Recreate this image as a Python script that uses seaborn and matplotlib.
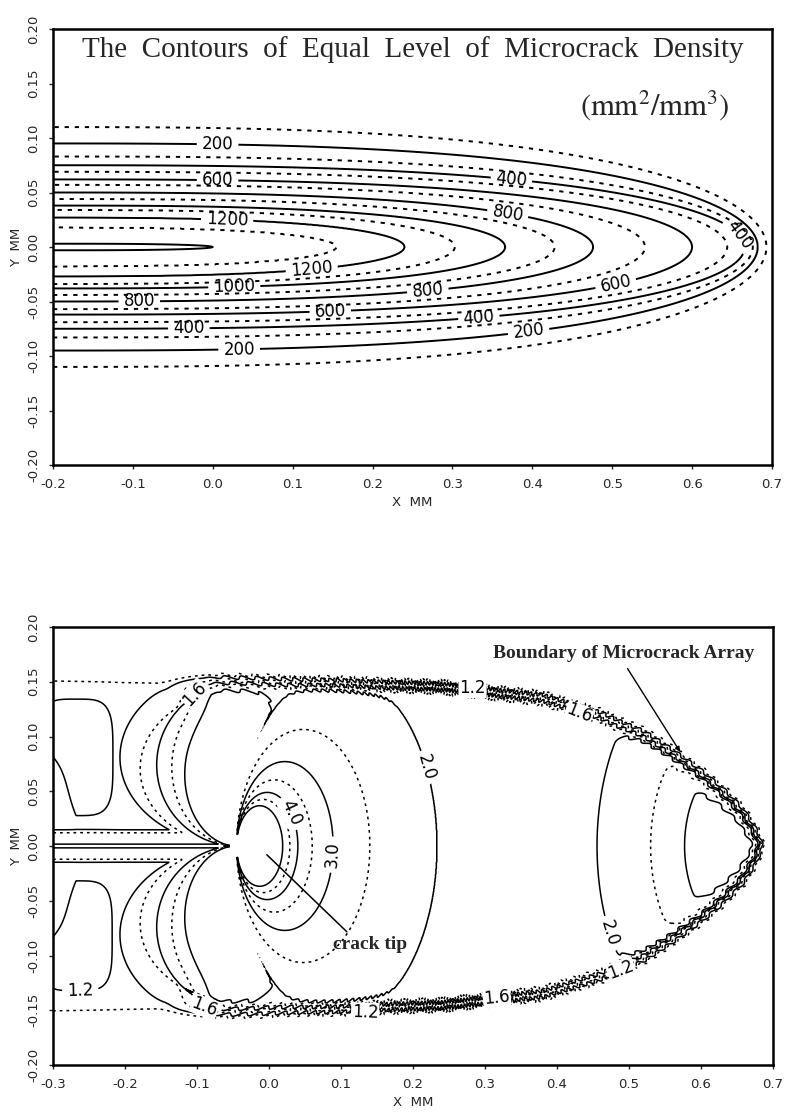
import numpy as np
import matplotlib
matplotlib.use("Agg")
import matplotlib.pyplot as plt
import seaborn as sns

# ---------------- upper panel: microcrack density (mm2/mm3) ----------------
top_levels = [100, 200, 300, 400, 500, 600, 700, 800, 900, 1000, 1100, 1200, 1300, 1400]
# half width of each contour at the left edge (x = -0.2) and x where it closes
top_halfwidth = [0.110, 0.095, 0.083, 0.075, 0.069, 0.062, 0.057, 0.050, 0.044,
                 0.038, 0.034, 0.027, 0.018, 0.003]
top_tip_x = [0.693, 0.682, 0.676, 0.666, 0.644, 0.600, 0.541, 0.476, 0.428,
             0.366, 0.303, 0.240, 0.155, 0.000]
top_shape_power = 2.8
top_label_pos = {
    200: [(0.006, 0.094), (0.033, -0.094), (0.396, -0.082)],
    400: [(0.374, 0.064), (0.656, 0.009), (-0.030, -0.075), (0.333, -0.064)],
    600: [(0.006, 0.061), (0.503, -0.030), (0.147, -0.058)],
    800: [(0.369, 0.030), (-0.092, -0.049), (0.269, -0.039)],
    1000: [(0.027, -0.039)],
    1200: [(0.018, 0.025), (0.124, -0.021)],
}
top_xticks = [-0.2, -0.1, 0.0, 0.1, 0.2, 0.3, 0.4, 0.5, 0.6, 0.7]

# ---------------- lower panel: field around the crack tip ----------------
bot_levels = [1.1, 1.2, 1.4, 1.6, 1.8, 2.0, 2.5, 3.0, 3.5, 4.0, 4.5, 5.0]
bot_solid = [False, True, False, True, False, True, False, True, False, True, False, True]
# boundary of the microcrack array (upper half, mirrored below)
boundary_x = [-0.35, -0.085, 0.10, 0.24, 0.38, 0.46, 0.52, 0.56, 0.60, 0.63, 0.655, 0.672, 0.678]
boundary_hw = [0.153, 0.150, 0.147, 0.144, 0.134, 0.118, 0.100, 0.082, 0.062, 0.045, 0.028, 0.010, 0.0]
crack_tip_x = -0.045
# loops ahead of the tip: loop "radius" -> level
tip_radius = [0.020, 0.032, 0.037, 0.0425, 0.0525, 0.067, 0.0925, 0.139]
tip_level = [6.0, 5.0, 4.5, 4.0, 3.5, 3.0, 2.5, 2.0]
tip_far_radius = 0.35
far_dx = [0.10, 0.25]
far_level = [2.08, 1.90]
# fan of lines behind the tip: radius, vertical squeeze, level
fan_radius = [0.162, 0.134, 0.111, 0.090, 0.072]
fan_squeeze = [2.0, 1.9, 1.5, 1.25, 1.1]
fan_level = [1.2, 1.4, 1.6, 1.8, 2.0]
fan_cap = 2.3
# rise near the end of the array
hump_radius = [0.0, 0.087, 0.132, 0.21, 0.30]
hump_rise = [1.4, 1.1, 0.6, 0.05, 0.0]
# pockets at the left edge: centre x, centre y, half sizes
pocket_x = [-0.268, -0.268]
pocket_y = [0.081, -0.082]
pocket_sx = [0.050, 0.049]
pocket_sy = [0.052, 0.049]
left_base = 1.15
outside_level = 1.0
bot_label_pos = {
    1.2: [(0.283, 0.144), (0.49, -0.110), (0.133, -0.154), (-0.262, -0.141)],
    1.6: [(-0.110, 0.140), (0.428, 0.118), (0.315, -0.141), (-0.086, -0.141)],
    2.0: [(0.240, 0.076), (0.488, -0.077)],
    3.0: [(0.092, -0.008)],
    4.0: [(0.029, 0.030)],
}
bot_xticks = [-0.3, -0.2, -0.1, 0.0, 0.1, 0.2, 0.3, 0.4, 0.5, 0.6, 0.7]
y_ticks = [-0.20, -0.15, -0.10, -0.05, 0.00, 0.05, 0.10, 0.15, 0.20]


def smoothstep(t):
    t = np.clip(t, 0, 1)
    return t * t * (3 - 2 * t)


def level_field(G, levels):
    # G[k] <= 1 inside contour k; G grows with k
    L = np.asarray(levels, float)
    n = len(L)
    n_in = (G <= 1).sum(axis=0)
    k = np.clip(n_in, 1, n - 1)
    g_lo = np.take_along_axis(G, (k - 1)[None], 0)[0]
    g_hi = np.take_along_axis(G, k[None], 0)[0]
    den = np.where(np.abs(g_hi - g_lo) < 1e-12, 1e-12, g_hi - g_lo)
    t = (1 - g_lo) / den
    return L[k - 1] + t * (L[k] - L[k - 1])


def draw_levels(ax, X, Y, F, levels, styles, lw, label_pos, fmt, boxed=False):
    for lv, st in zip(levels, styles):
        cs = ax.contour(X, Y, F, levels=[lv], colors='k', linewidths=lw, linestyles=[st])
        if lv in label_pos:
            texts = ax.clabel(cs, manual=label_pos[lv], fmt=fmt, fontsize=12,
                              inline=True, inline_spacing=5)
            if boxed:
                for tx in texts:
                    tx.set_bbox(dict(facecolor='white', edgecolor='none', pad=0.6))
                    tx.set_zorder(6)


sns.set_style("ticks")
plt.rcParams['font.family'] = ['DejaVu Sans']
plt.rcParams['mathtext.fontset'] = 'stix'
plt.rcParams['axes.linewidth'] = 1.8
plt.rcParams['xtick.major.size'] = 3
plt.rcParams['ytick.major.size'] = 3
plt.rcParams['xtick.major.width'] = 1.0
plt.rcParams['ytick.major.width'] = 1.0

fig = plt.figure(figsize=(7.9, 11.14), dpi=100)
ax1 = fig.add_axes([53 / 790, 1 - 465 / 1114, 719 / 790, 436 / 1114])
ax2 = fig.add_axes([53 / 790, 1 - 1065 / 1114, 720 / 790, 438 / 1114])

# ---- upper field ----
xt = np.linspace(-0.2, 0.7, 901)
yt = np.linspace(-0.2, 0.2, 801)
XT, YT = np.meshgrid(xt, yt)
G = np.stack([
    np.clip((XT + 0.2) / (tx + 0.2), 0, None) ** top_shape_power + (YT / hw) ** 2
    for hw, tx in zip(top_halfwidth, top_tip_x)
])
FT = level_field(G, top_levels)
top_styles = ['solid' if lv % 200 == 0 else (0, (2.2, 3.0)) for lv in top_levels]
draw_levels(ax1, XT, YT, FT, top_levels, top_styles, 1.4, top_label_pos, '%d')

ax1.text(0.25, 0.181, "The  Contours  of  Equal  Level  of  Microcrack  Density",
         ha='center', va='center', family='Liberation Serif', fontsize=21)
ax1.text(0.553, 0.130, r"$\mathrm{(mm^2/mm^3)}$", ha='center', va='center', fontsize=22)

# ---- lower field ----
xb = np.linspace(-0.3, 0.7, 1667)
yb = np.linspace(-0.2, 0.2, 801)
X, Y = np.meshgrid(xb, yb)
dx = X - crack_tip_x
ay = 1.15
with np.errstate(divide='ignore', invalid='ignore'):
    a = np.where(dx > 1e-9, (dx ** 2 + (Y / ay) ** 2) / (2 * dx), 10.0)
a = np.minimum(a, 10.0)
F_tip = np.interp(a, tip_radius, tip_level)
far = np.interp(dx, far_dx, far_level)
F_tip = F_tip + (far - tip_level[-1]) * smoothstep(
    (a - tip_radius[-1]) / (tip_far_radius - tip_radius[-1]))
F_tip = F_tip + np.interp(np.hypot(X - 0.665, Y), hump_radius, hump_rise)

ay_abs = np.abs(Y) + 1e-9
Gf = np.stack([(dx ** 2 + (s * ay_abs) ** 2) / (2 * R * s * ay_abs)
               for R, s in zip(fan_radius, fan_squeeze)])
F_fan = np.minimum(level_field(Gf, fan_level), fan_cap)

pockets = np.zeros_like(X)
for cx, cy, sx, sy in zip(pocket_x, pocket_y, pocket_sx, pocket_sy):
    u = (X - cx) / sx
    v = np.sign(cy) * (Y - cy) / sy          # negative towards the crack faces
    q = u ** 4 + v ** 4 + 5 * np.clip(-u, 0, None) * np.clip(0.3 - v, 0, None)
    pockets += 0.15 * np.exp(-q)
ridge = (0.35 / (1 + np.exp((np.abs(Y) - 0.013) / 0.001))
         + 0.12 * np.exp(-(Y / 0.004) ** 2)) * smoothstep(-dx / 0.02)
F_left = np.maximum(left_base + pockets + ridge, F_fan)

theta = np.arctan2(np.abs(Y), dx)
w = smoothstep((np.deg2rad(125) - theta) / np.deg2rad(30))
F_in = w * F_tip + (1 - w) * F_left

px = np.r_[boundary_x, boundary_x[::-1][1:]]
py = np.r_[boundary_hw, -np.array(boundary_hw)[::-1][1:]]
dist = np.full(X.shape, np.inf)
for x0, y0, x1, y1 in zip(px[:-1], py[:-1], px[1:], py[1:]):
    vx, vy = x1 - x0, y1 - y0
    t = np.clip(((X - x0) * vx + (Y - y0) * vy) / (vx * vx + vy * vy), 0, 1)
    dist = np.minimum(dist, np.hypot(X - x0 - t * vx, Y - y0 - t * vy))
inside = np.abs(Y) < np.interp(X, boundary_x, boundary_hw, right=0.0)
d = np.where(inside, dist, -dist)
# the numerical ripple that makes the boundary look hatched
arc = np.arctan2(Y, X - 0.25) * 0.35
d = d + 0.0016 * np.sin(2 * np.pi * arc / 0.011) * smoothstep((X + 0.1) / 0.05)
sig = 1 / (1 + np.exp(-d / 0.003))
FB = outside_level + (F_in - outside_level) * sig
FB = np.ma.masked_where((X > -0.054) & (X < -0.008) & (np.abs(Y) < 0.010), FB)

bot_styles = ['solid' if s else (0, (1.8, 2.6)) for s in bot_solid]
draw_levels(ax2, X, Y, FB, bot_levels, bot_styles, 1.1, bot_label_pos, '%.1f', boxed=True)

ax2.annotate("Boundary of Microcrack Array", xy=(0.571, 0.086), xytext=(0.492, 0.176),
             ha='center', va='center', family='Liberation Serif', fontweight='bold',
             fontsize=14,
             arrowprops=dict(arrowstyle='-|>', color='k', lw=1.0, mutation_scale=7,
                             relpos=(0.5, 0.0), shrinkA=3, shrinkB=0))
ax2.annotate("crack tip", xy=(-0.003, -0.008), xytext=(0.140, -0.090),
             ha='center', va='center', family='Liberation Serif', fontweight='bold',
             fontsize=14,
             arrowprops=dict(arrowstyle='-', color='k', lw=1.1,
                             relpos=(0.25, 1.0), shrinkA=1, shrinkB=0))

# ---- axes cosmetics ----
for ax, xticks in ((ax1, top_xticks), (ax2, bot_xticks)):
    ax.set_xlim(xticks[0], xticks[-1])
    ax.set_ylim(-0.2, 0.2)
    ax.set_xticks(xticks)
    ax.set_xticklabels(['%.1f' % v for v in xticks])
    ax.set_yticks(y_ticks)
    ax.set_yticklabels(['%.2f' % v for v in y_ticks], rotation=90, va='center')
    ax.tick_params(labelsize=9.5, direction='out', pad=6)
    ax.set_xlabel("X  MM", fontsize=9.5, labelpad=4)
    ax.set_ylabel("Y  MM", fontsize=9.5, labelpad=3)
    for sp in ax.spines.values():
        sp.set_visible(True)
        sp.set_linewidth(1.8)
        sp.set_color('k')

fig.savefig("out.png", dpi=100)
